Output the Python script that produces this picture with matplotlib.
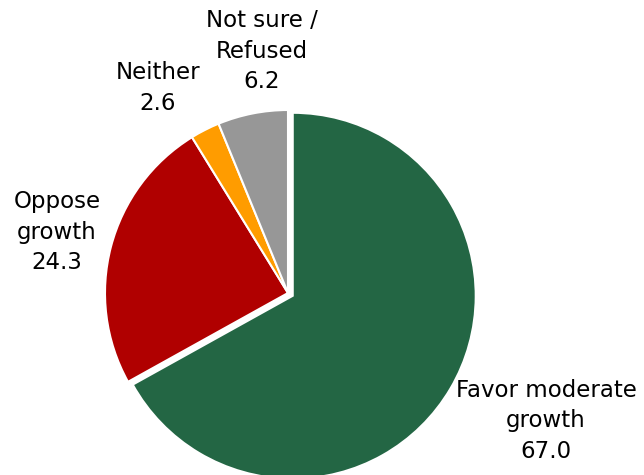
import matplotlib
matplotlib.use('Agg')
import matplotlib.pyplot as plt

labels = ['Favor moderate\ngrowth', 'Oppose\ngrowth', 'Neither', 'Not sure /\nRefused']
values = [67.0, 24.3, 2.6, 6.2]
colors = ['#236644', '#b00000', '#ff9c00', '#979797']
explode = [0.03, 0.0, 0.0, 0.0]   # fraction of the radius

# label centres in pixel coords (x, y from top)
label_pos = [(546, 421), (57, 232), (158, 88), (262, 51)]

W, H = 644, 475
R = 183
fig = plt.figure(figsize=(W / 100, H / 100), dpi=100)
ax = fig.add_axes([0, 0, 1, 1])

# pie's explode is in data units, scale it up to the radius
ax.pie(values, colors=colors, explode=[e * R for e in explode],
       startangle=90, counterclock=False,
       center=(288, H - 293), radius=R,
       wedgeprops=dict(edgecolor='white', linewidth=1.5))

# pie() resets the limits, so put the pixel frame back afterwards
ax.set_xlim(0, W)
ax.set_ylim(0, H)
ax.set_aspect('equal')
ax.axis('off')

for lab, v, (x, y) in zip(labels, values, label_pos):
    ax.text(x, H - y, f'{lab}\n{v:.1f}', ha='center', va='center',
            fontsize=16.5, family='DejaVu Sans', linespacing=1.42, color='black')

fig.savefig('out.png', dpi=100)
